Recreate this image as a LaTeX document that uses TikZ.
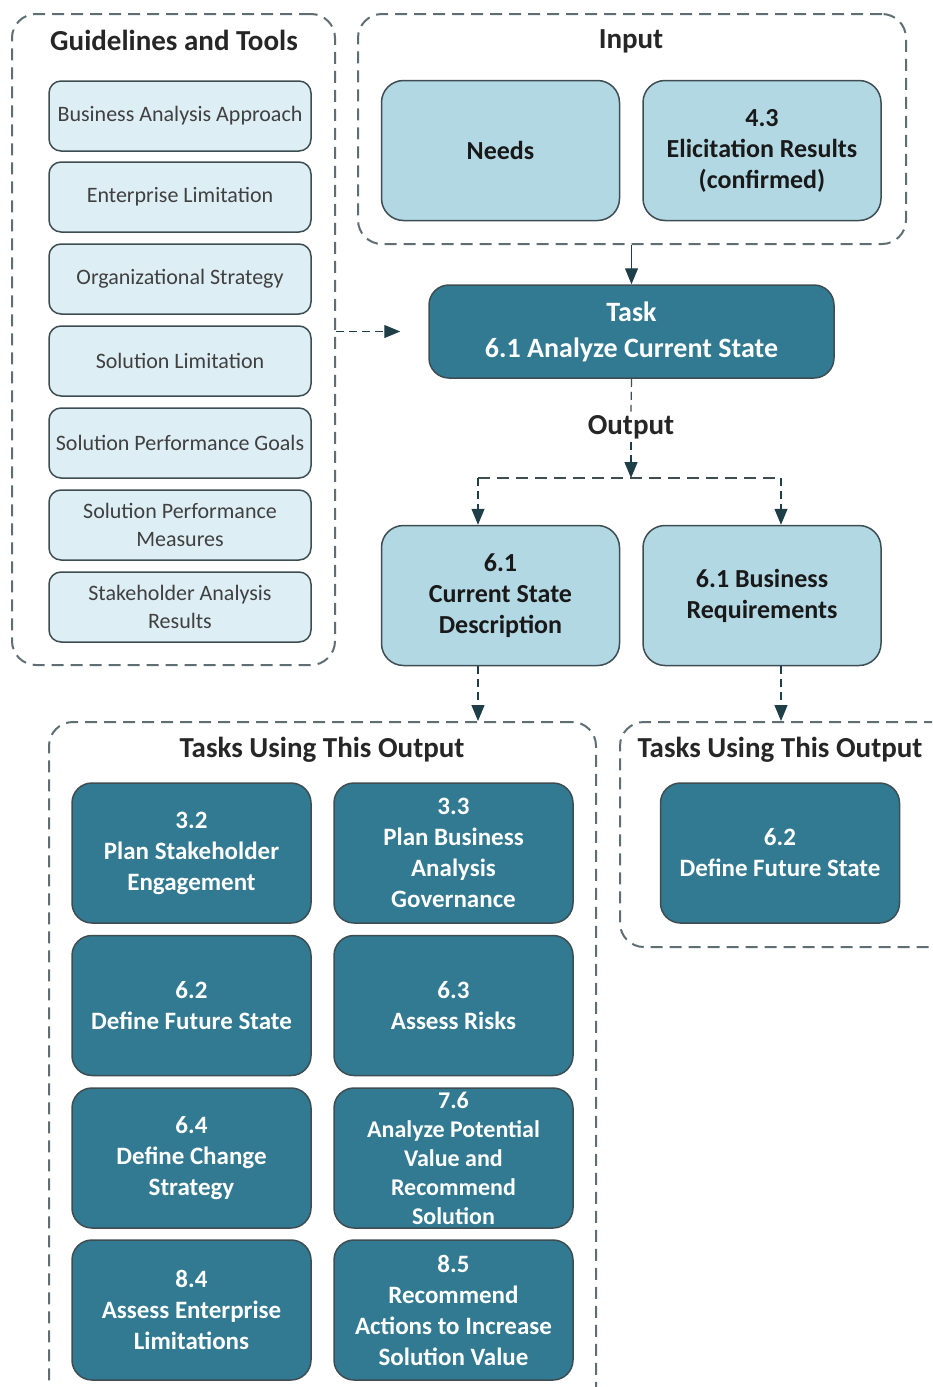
\documentclass[tikz,border=0pt]{standalone}
\usepackage{fontspec}
\setmainfont{Carlito}
\usetikzlibrary{arrows.meta}
\definecolor{tealdark}{HTML}{317A92}
\definecolor{bluemid}{HTML}{B2D8E4}
\definecolor{bluepale}{HTML}{DDEEF4}
\definecolor{edgegray}{HTML}{3E4D52}
\definecolor{dashgray}{HTML}{5E6E73}
\definecolor{tipdark}{HTML}{1E3E48}
\tikzset{
  group/.style={draw=dashgray, line width=2pt, dash pattern=on 12pt off 7pt,
    rounded corners=24pt, inner sep=0pt},
  grouptitle/.style={font=\fontsize{29}{34}\selectfont\bfseries, text=black!85},
  guide/.style={draw=edgegray, line width=1.5pt, fill=bluepale, rounded corners=12pt,
    minimum width=262pt, minimum height=70pt, inner xsep=2pt, align=center, text=black!75,
    font=\fontsize{22}{28}\selectfont},
  item/.style={draw=edgegray, line width=1.5pt, fill=bluemid, rounded corners=22pt,
    minimum width=238pt, minimum height=140pt, align=center, text=black!90,
    font=\fontsize{26}{31}\selectfont\bfseries},
  task/.style={draw=edgegray, line width=1.5pt, fill=tealdark, rounded corners=20pt,
    minimum width=239pt, minimum height=140pt, align=center, text=white,
    font=\fontsize{25}{31}\selectfont\bfseries},
  flow/.style={draw=edgegray, line width=1.2pt, -{Triangle[length=16pt,width=13pt]}, tipdark},
  dflow/.style={flow, dash pattern=on 8pt off 5pt}
}
\begin{document}
\begin{tikzpicture}[x=1pt,y=-1pt]
    \clip (0,0) rectangle (932,1387);
    % dashed groups
    \node [group, minimum width=323pt, minimum height=651pt] (guides) at (173.5,339.5) {};
    \node [group, minimum width=548pt, minimum height=230pt] (input) at (632,129) {};
    \node [group, minimum width=547pt, minimum height=700pt] (usesl) at (322.5,1072) {};
    \node [group, minimum width=340pt, minimum height=225pt] (usesr) at (790,834.5) {};
    \node [grouptitle] (guidestitle) at (174,40) {Guidelines and Tools};
    \node [grouptitle] (inputtitle) at (631,41) {Input};
    \node [grouptitle] (usesltitle) at (322,750) {Tasks Using This Output};
    \node [grouptitle] (usesrtitle) at (780,750) {Tasks Using This Output};

    % guidelines and tools
    \node [guide] (approach) at (180,116) {Business Analysis Approach};
    \node [guide] (entlimit) at (180,197) {Enterprise Limitation};
    \node [guide] (orgstrat) at (180,279) {Organizational Strategy};
    \node [guide] (sollimit) at (180,361) {Solution Limitation};
    \node [guide] (perfgoals) at (180,443) {Solution Performance Goals};
    \node [guide] (perfmeas) at (180,525) {Solution Performance\\Measures};
    \node [guide] (stakeres) at (180,607) {Stakeholder Analysis\\Results};

    % inputs, task, outputs
    \node [item] (needs) at (500.5,150.5) {Needs};
    \node [item] (elicit) at (762,150.5) {4.3\\Elicitation Results\\(confirmed)};
    \node [task, minimum width=405pt, minimum height=93pt, font=\fontsize{28}{36}\selectfont\bfseries] (analyze) at (631.5,331.5) {Task\\6.1 Analyze Current State};
    \node [grouptitle] (output) at (631,427) {Output};
    \node [item] (curstate) at (500.5,595.5) {6.1\\Current State\\Description};
    \node [item] (busreq) at (762,595.5) {6.1 Business\\Requirements};

    % tasks using the outputs
    \node [task] (stakeeng) at (191.5,853) {3.2\\Plan Stakeholder\\Engagement};
    \node [task] (govern) at (453.5,853) {3.3\\Plan Business\\Analysis\\Governance};
    \node [task] (futurel) at (191.5,1005.5) {6.2\\Define Future State};
    \node [task] (risks) at (453.5,1005.5) {6.3\\Assess Risks};
    \node [task] (changestrat) at (191.5,1158) {6.4\\Define Change\\Strategy};
    \node [task, font=\fontsize{24}{29}\selectfont\bfseries] (potvalue) at (453.5,1158) {7.6\\Analyze Potential\\Value and\\Recommend\\Solution};
    \node [task] (entlimits) at (191.5,1310) {8.4\\Assess Enterprise\\Limitations};
    \node [task] (incvalue) at (453.5,1310) {8.5\\Recommend\\Actions to Increase\\Solution Value};
    \node [task] (futurer) at (780,853) {6.2\\Define Future State};

    % connectors
    \coordinate (split) at (631,478);
    \coordinate (splitl) at (478,478);
    \coordinate (splitr) at (781,478);
    \draw [flow] (input.south -| analyze) -- (analyze.north);
    \draw [dflow, shorten >=28pt] (guides.east |- analyze) -- (analyze.west);
    \draw [edgegray, line width=1.2pt, dash pattern=on 8pt off 5pt] (analyze.south) -- (output.north);
    \draw [dflow] (output.south) -- (split);
    \draw [edgegray, line width=1.5pt, dash pattern=on 12pt off 7pt] (splitl) -- (splitr);
    \draw [dflow] (splitl) -- (splitl |- curstate.north);
    \draw [dflow] (splitr) -- (splitr |- busreq.north);
    \draw [dflow] (splitl |- curstate.south) -- (splitl |- usesl.north);
    \draw [dflow] (splitr |- busreq.south) -- (splitr |- usesr.north);
\end{tikzpicture}
\end{document}
